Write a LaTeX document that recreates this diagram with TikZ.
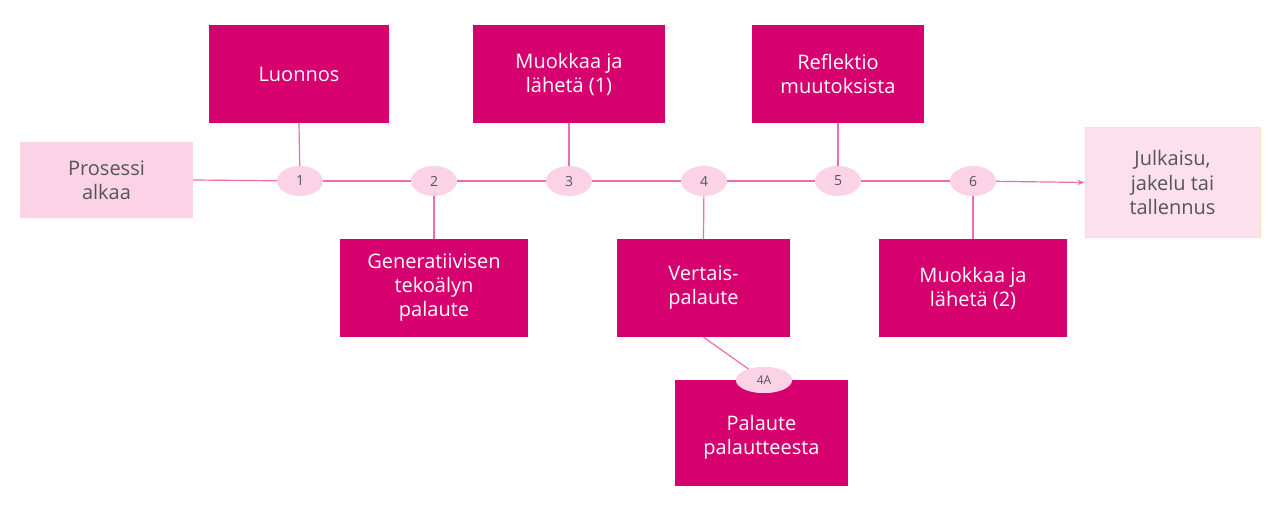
\documentclass[tikz,border=0pt]{standalone}
\usepackage{fontspec}
\setmainfont{Open Sans}
\usetikzlibrary{shapes.geometric,arrows.meta}
\definecolor{mag}{HTML}{D6006E}
\definecolor{lpink}{HTML}{FCD3E6}
\definecolor{lnk}{HTML}{F06BB0}
\definecolor{txtg}{HTML}{555555}
\begin{document}
\begin{tikzpicture}[x=1pt,y=-1pt,
 box/.style={fill=mag,text=white,font=\fontsize{20}{24}\selectfont,align=center,inner sep=0pt},
 num/.style={ellipse,fill=lpink,minimum width=46pt,minimum height=30pt,inner sep=0pt,font=\fontsize{14}{16}\selectfont,text=txtg},
 con/.style={draw=lnk,line width=1.2pt}]
\useasboundingbox (0,0) rectangle (1280,524);
\node[box,fill=lpink,text=txtg,minimum width=173pt,minimum height=76pt] (start) at (106.5,180) {Prosessi\\alkaa};
\node[box,fill=lpink!70!white,draw=orange!25,line width=1pt,text=txtg,minimum width=175pt,minimum height=109pt] (end) at (1172.5,182.5) {Julkaisu,\\jakelu tai\\tallennus};
\foreach \n/\x in {1/300,2/434,3/569,4/704,5/838,6/973} \coordinate (c\n) at (\x,181);
\draw[con] (start.east) -- (c1);
\draw[con] (c1) -- (c2) -- (c3) -- (c4) -- (c5) -- (c6);
\draw[con,-{Stealth[length=7pt]}] (c6) -- (end.west);
\node[box,minimum width=180pt,minimum height=98pt] (b1) at (299,74) {Luonnos};
\node[box,minimum width=192pt,minimum height=98pt] (b3) at (569,74) {Muokkaa ja\\lähetä (1)};
\node[box,minimum width=172pt,minimum height=98pt] (b5) at (838,74) {Reflektio\\muutoksista};
\node[box,minimum width=188pt,minimum height=98pt] (b2) at (434,288) {Generatiivisen\\tekoälyn\\palaute};
\node[box,minimum width=173pt,minimum height=98pt] (b4) at (703.5,288) {Vertais-\\palaute};
\node[box,minimum width=188pt,minimum height=98pt] (b6) at (973,288) {Muokkaa ja\\lähetä (2)};
\node[box,minimum width=173pt,minimum height=106pt] (b4a) at (761.5,433) {\\Palaute\\palautteesta};
\foreach \n in {1,3,5} \draw[con] (b\n.south) -- (c\n);
\foreach \n in {2,4,6} \draw[con] (b\n.north) -- (c\n);
\foreach \n in {1,...,6} \node[num] (n\n) at (c\n) {\n};
\node[num,minimum width=56pt,minimum height=26pt,font=\fontsize{12}{14}\selectfont] (n4a) at (764,380) {4A};
\draw[con] (b4.south) -- (n4a);
\node[num,minimum width=56pt,minimum height=26pt,font=\fontsize{12}{14}\selectfont] at (764,380) {4A};
\end{tikzpicture}
\end{document}
